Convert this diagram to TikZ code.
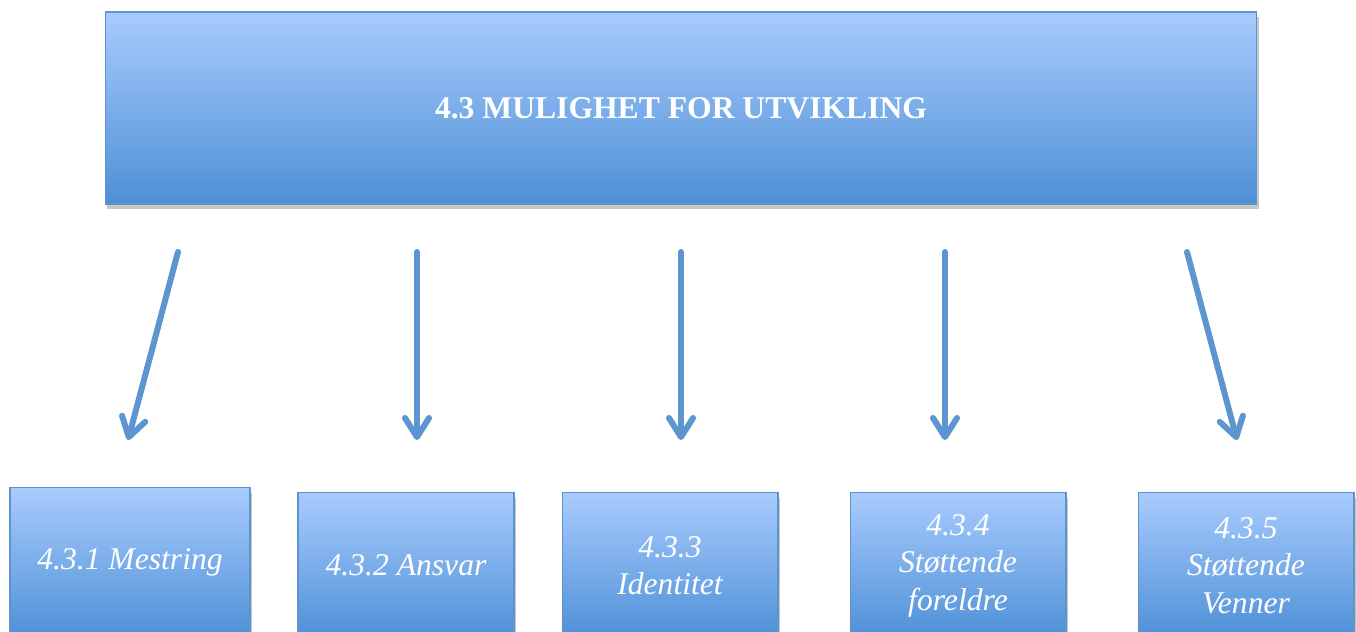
\documentclass[tikz,border=0pt]{standalone}
\usepackage{fontspec}
\setmainfont{Liberation Serif}
\usetikzlibrary{positioning,shadows,arrows.meta}

\definecolor{boxtop}{HTML}{A8CBFE}
\definecolor{boxbot}{HTML}{4E90D6}
\definecolor{boxline}{HTML}{5F93CC}
\definecolor{pilblue}{HTML}{5C95D0}

\tikzset{
	boxshade/.style={draw=boxline, line width=0.6pt, top color=boxtop, bottom color=boxbot,
		drop shadow={shadow xshift=0.04cm, shadow yshift=-0.1cm, opacity=.4, fill=black!55}},
	mainbox/.style={boxshade, minimum width=23.04cm, minimum height=3.84cm, text=white,
		font=\fontsize{18}{21.5}\selectfont\bfseries},
	subbox/.style={boxshade, anchor=north, minimum width=4.32cm, minimum height=2.92cm, text=white,
		align=center, font=\fontsize{18}{21.3}\selectfont\itshape},
	pil/.style={pilblue, line width=0.12cm, line cap=round, -{Straight Barb[length=0.38cm, width=0.48cm, round]}}
}

\begin{document}
\begin{tikzpicture}[x=0.02cm,y=-0.02cm]
				
				\useasboundingbox (0,0) rectangle (1356,632);
				
				\node[mainbox] (hoved) at (681,108) {4.3 MULIGHET FOR UTVIKLING};
				
				\node[subbox, minimum width=4.8cm, minimum height=3.0cm] (m1) at (130,487) {4.3.1 Mestring};
				\node[subbox] (m2) at (406,492) {4.3.2 Ansvar};
				\node[subbox] (m3) at (670,492) {4.3.3\\Identitet};
				\node[subbox] (m4) at (958,492) {4.3.4\\Støttende\\foreldre};
				\node[subbox] (m5) at (1246,492) {4.3.5\\Støttende\\Venner};
				
				\coordinate (p1s) at (178,252);
				\coordinate (p1e) at (128,440);
				\coordinate (p2s) at (417,252);
				\coordinate (p2e) at (417,440);
				\coordinate (p3s) at (681,252);
				\coordinate (p3e) at (681,440);
				\coordinate (p4s) at (945,252);
				\coordinate (p4e) at (945,440);
				\coordinate (p5s) at (1187,252);
				\coordinate (p5e) at (1237,440);
				
				\draw[pil] (p1s) -- (p1e);
				\draw[pil] (p2s) -- (p2e);
				\draw[pil] (p3s) -- (p3e);
				\draw[pil] (p4s) -- (p4e);
				\draw[pil] (p5s) -- (p5e);
			\end{tikzpicture}
\end{document}
